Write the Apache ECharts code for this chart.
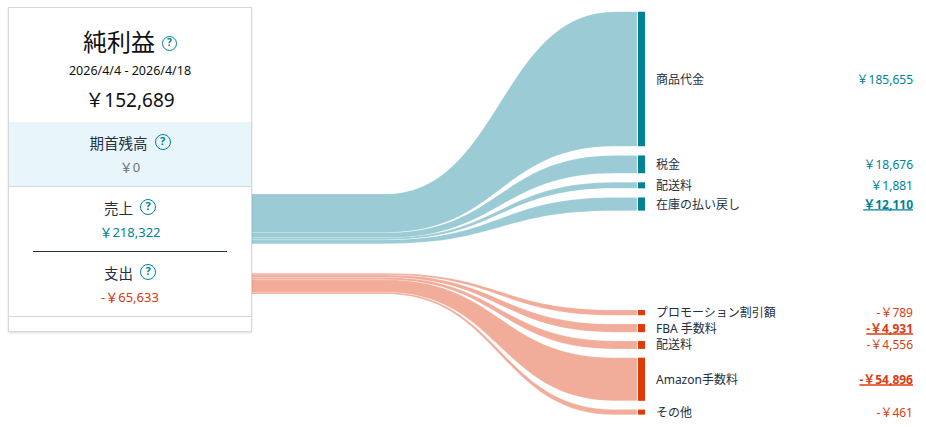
<!DOCTYPE html>
<html>
<head>
<meta charset="utf-8">
<script src="https://cdn.jsdelivr.net/npm/echarts@6/dist/echarts.min.js"></script>
<style>
  html, body { margin: 0; padding: 0; background: #fff; overflow: hidden; }
  body { font-family: "Noto Sans", "Noto Sans CJK JP", sans-serif; color: #0F1111; }
  #chart { position: absolute; left: 0; top: 0; width: 926px; height: 427px; }
  #panel { position: absolute; left: 8px; top: 7px; width: 244px; height: 325px; box-sizing: border-box;
           border: 1px solid #D5D9D9; background: #fff; box-shadow: 0 1px 2px rgba(15,17,17,0.15); z-index: 2; }
  .row { position: absolute; left: 8px; width: 244px; display: flex; justify-content: center; align-items: center;
         white-space: nowrap; z-index: 3; }
  .q { display: inline-block; box-sizing: border-box; border: 1.6px solid #008296; border-radius: 50%;
       color: #008296; font-weight: bold; text-align: center; font-family: "Noto Sans", sans-serif; }
  .band { position: absolute; z-index: 3; }
</style>
</head>
<body>
<div id="chart"></div>
<div id="panel"></div>
<div class="band" style="left:9px; top:122px; width:242px; height:64px; background:#E8F6FC;"></div>
<div class="band" style="left:9px; top:186px; width:242px; height:1px; background:#D5D9D9;"></div>
<div class="band" style="left:33px; top:251px; width:194px; height:1px; background:#232F3E;"></div>
<div class="band" style="left:9px; top:316px; width:242px; height:1px; background:#D5D9D9;"></div>

<div class="row" id="rTitle" style="top:25px; height:30px; font-size:24px; color:#0F1111;"></div>
<div class="row" id="rDate" style="top:62px; height:16px; font-size:12.5px; color:#0F1111;"></div>
<div class="row" id="rNet" style="top:87px; height:24px; font-size:19px; color:#0F1111;"></div>
<div class="row" id="rOpenLbl" style="top:133px; height:18px; font-size:14.5px; color:#232F3E;"></div>
<div class="row" id="rOpenVal" style="top:158px; height:16px; font-size:13px; color:#6F7373;"></div>
<div class="row" id="rSalesLbl" style="top:198px; height:18px; font-size:14.5px; color:#232F3E;"></div>
<div class="row" id="rSalesVal" style="top:223px; height:16px; font-size:13px; color:#008296;"></div>
<div class="row" id="rExpLbl" style="top:263px; height:18px; font-size:14.5px; color:#232F3E;"></div>
<div class="row" id="rExpVal" style="top:288px; height:16px; font-size:13px; color:#D8370F;"></div>

<script>
// ---------------- data ----------------
const dateRange = '2026/4/4 - 2026/4/18';
const panelTitles = ['純利益', '期首残高', '売上', '支出'];
const openingBalance = 0;
const incomeLabels = ['商品代金', '税金', '配送料', '在庫の払い戻し'];
const incomeValues = [185655, 18676, 1881, 12110];
const expenseLabels = ['プロモーション割引額', 'FBA 手数料', '配送料', 'Amazon手数料', 'その他'];
const expenseValues = [789, 4931, 4556, 54896, 461];
const incomeLinked = ['在庫の払い戻し'];
const expenseLinked = ['FBA 手数料', 'Amazon手数料'];

// ---------------- derived totals ----------------
const sum = a => a.reduce((s, v) => s + v, 0);
const salesTotal = sum(incomeValues);
const expenseTotal = sum(expenseValues);
const netTotal = openingBalance + salesTotal - expenseTotal;
const fmt = v => '￥' + Math.abs(v).toLocaleString('en-US');
const fmtNeg = v => '-￥' + Math.abs(v).toLocaleString('en-US');

// ---------------- panel ----------------
function q(size) {
  return '<span class="q" style="width:' + size + 'px;height:' + size + 'px;font-size:' + (size - 5) +
         'px;line-height:' + (size - 3.2) + 'px;margin-left:7px;position:relative;top:TOPpx;">?</span>';
}
document.getElementById('rTitle').innerHTML = '<span>' + panelTitles[0] + '</span>' + q(15).replace('TOP', '3');
document.getElementById('rDate').textContent = dateRange;
document.getElementById('rNet').textContent = fmt(netTotal);
document.getElementById('rOpenLbl').innerHTML = '<span>' + panelTitles[1] + '</span>' + q(16).replace('TOP', '0');
document.getElementById('rOpenVal').textContent = fmt(openingBalance);
document.getElementById('rSalesLbl').innerHTML = '<span>' + panelTitles[2] + '</span>' + q(16).replace('TOP', '0');
document.getElementById('rSalesVal').textContent = fmt(salesTotal);
document.getElementById('rExpLbl').innerHTML = '<span>' + panelTitles[3] + '</span>' + q(16).replace('TOP', '0');
document.getElementById('rExpVal').textContent = fmtNeg(expenseTotal);

// ---------------- layout / style config ----------------
const RIGHT = { minH: 4.7, k: 0.0007, gapIncome: 9.1, gapExpense: 8.8, incomeTop: 11.7, expenseTop: 310 };
const LEFT = { minH: 1.5, k: 0.0002, incomeTop: 194, expenseTop: 273.3 };
const XL = { linkStart: 240, curveStart: 385, curveEnd: 615, linkEnd: 637, barX: 638, barW: 7, labelX: 656, valueX: 913 };
const STYLE = {
  income: { link: '#9BCCD5', bar: '#008296', value: '#008296' },
  expense: { link: '#F2AC9A', bar: '#E03A06', value: '#DD3B12' },
  labelColor: '#232F3E',
  font: '"Noto Sans", "Noto Sans CJK JP", sans-serif'
};

function column(values, top, minH, k, gap) {
  let y = top;
  return values.map(v => {
    const h = minH + k * v;
    const r = { y0: y, y1: y + h };
    y += h + gap;
    return r;
  });
}
const incRight = column(incomeValues, RIGHT.incomeTop, RIGHT.minH, RIGHT.k, RIGHT.gapIncome);
const expRight = column(expenseValues, RIGHT.expenseTop, RIGHT.minH, RIGHT.k, RIGHT.gapExpense);
const incLeft = column(incomeValues, LEFT.incomeTop, LEFT.minH, LEFT.k, 0);
const expLeft = column(expenseValues, LEFT.expenseTop, LEFT.minH, LEFT.k, 0);

const measureCtx = document.createElement('canvas').getContext('2d');
function textWidth(text, font) { measureCtx.font = font; return measureCtx.measureText(text).width; }

function makeRender(kind) {
  const isInc = kind === 'income';
  const L = isInc ? incLeft : expLeft;
  const R = isInc ? incRight : expRight;
  const labels = isInc ? incomeLabels : expenseLabels;
  const linked = isInc ? incomeLinked : expenseLinked;
  const st = STYLE[kind];
  return function (params, api) {
    const i = params.dataIndex;
    const v = api.value(1);
    const p = (x, y) => { const c = api.coord([x, y]); return c[0].toFixed(2) + ' ' + c[1].toFixed(2); };
    const xs = XL.linkStart, cs = XL.curveStart, ce = XL.curveEnd, xe = XL.linkEnd, xm = (cs + ce) / 2;
    const t0 = L[i].y0, b0 = L[i].y1, t1 = R[i].y0, b1 = R[i].y1;
    const d = 'M' + p(xs, t0) + ' L' + p(cs, t0) + ' C' + p(xm, t0) + ' ' + p(xm, t1) + ' ' + p(ce, t1) +
              ' L' + p(xe, t1) + ' L' + p(xe, b1) + ' L' + p(ce, b1) + ' C' + p(xm, b1) + ' ' + p(xm, b0) + ' ' + p(cs, b0) +
              ' L' + p(xs, b0) + ' Z';
    const barTL = api.coord([XL.barX, t1]);
    const barBR = api.coord([XL.barX + XL.barW, b1]);
    const cy = api.coord([0, (t1 + b1) / 2])[1];
    const lx = api.coord([XL.labelX, 0])[0];
    const vx = api.coord([XL.valueX, 0])[0];
    const isLinked = linked.indexOf(labels[i]) >= 0;
    const valText = isInc ? fmt(v) : fmtNeg(v);
    const valFont = (isLinked ? 'bold ' : '') + '12px ' + STYLE.font;
    const children = [
      { type: 'path', shape: { pathData: d }, style: { fill: st.link, stroke: 'rgba(255,255,255,0.35)', lineWidth: 0.5 } },
      { type: 'rect', shape: { x: barTL[0], y: barTL[1], width: barBR[0] - barTL[0], height: barBR[1] - barTL[1] }, style: { fill: st.bar } },
      { type: 'text', style: { text: labels[i], x: lx, y: cy, fill: STYLE.labelColor, font: '12px ' + STYLE.font,
          align: 'left', verticalAlign: 'middle', textAlign: 'left', textVerticalAlign: 'middle' } },
      { type: 'text', style: { text: valText, x: vx, y: cy, fill: st.value, font: valFont,
          align: 'right', verticalAlign: 'middle', textAlign: 'right', textVerticalAlign: 'middle' } }
    ];
    if (isLinked) {
      const w = textWidth(valText, valFont);
      children.push({ type: 'line', shape: { x1: vx - w, y1: cy + 5.8, x2: vx, y2: cy + 5.8 }, style: { stroke: st.value, lineWidth: 1.4 } });
    }
    return { type: 'group', children: children };
  };
}

const chart = echarts.init(document.getElementById('chart'), null, { renderer: 'svg' });
chart.setOption({
  animation: false,
  grid: { left: 0, right: 0, top: 0, bottom: 0 },
  xAxis: { type: 'value', min: 0, max: 926, show: false },
  yAxis: { type: 'value', min: 0, max: 427, inverse: true, show: false },
  series: [
    { type: 'custom', name: '売上', coordinateSystem: 'cartesian2d', clip: false,
      data: incomeValues.map((v, i) => [i, v]), renderItem: makeRender('income') },
    { type: 'custom', name: '支出', coordinateSystem: 'cartesian2d', clip: false,
      data: expenseValues.map((v, i) => [i, v]), renderItem: makeRender('expense') }
  ]
});
</script>
</body>
</html>
